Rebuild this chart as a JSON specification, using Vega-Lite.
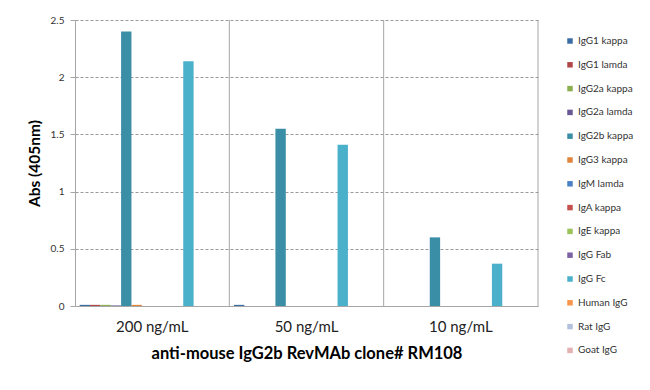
{
  "$schema": "https://vega.github.io/schema/vega-lite/v6.json",
  "width": 463,
  "height": 286,
  "autosize": "none",
  "padding": {"left": 75, "top": 20, "right": 112, "bottom": 84},
  "background": "white",
  "config": {
    "font": "Lato",
    "view": {"stroke": null}
  },
  "datasets": {
    "bars": [
      {"conc": "200 ng/mL", "isotype": "IgG1 kappa", "abs": 0.01},
      {"conc": "200 ng/mL", "isotype": "IgG1 lamda", "abs": 0.01},
      {"conc": "200 ng/mL", "isotype": "IgG2a kappa", "abs": 0.01},
      {"conc": "200 ng/mL", "isotype": "IgG2a lamda", "abs": 0.005},
      {"conc": "200 ng/mL", "isotype": "IgG2b kappa", "abs": 2.40},
      {"conc": "200 ng/mL", "isotype": "IgG3 kappa", "abs": 0.01},
      {"conc": "200 ng/mL", "isotype": "IgM lamda", "abs": 0},
      {"conc": "200 ng/mL", "isotype": "IgA kappa", "abs": 0},
      {"conc": "200 ng/mL", "isotype": "IgE kappa", "abs": 0},
      {"conc": "200 ng/mL", "isotype": "IgG Fab", "abs": 0},
      {"conc": "200 ng/mL", "isotype": "IgG Fc", "abs": 2.14},
      {"conc": "200 ng/mL", "isotype": "Human IgG", "abs": 0},
      {"conc": "200 ng/mL", "isotype": "Rat IgG", "abs": 0},
      {"conc": "200 ng/mL", "isotype": "Goat IgG", "abs": 0},
      {"conc": "50 ng/mL", "isotype": "IgG1 kappa", "abs": 0.01},
      {"conc": "50 ng/mL", "isotype": "IgG1 lamda", "abs": 0},
      {"conc": "50 ng/mL", "isotype": "IgG2a kappa", "abs": 0},
      {"conc": "50 ng/mL", "isotype": "IgG2a lamda", "abs": 0},
      {"conc": "50 ng/mL", "isotype": "IgG2b kappa", "abs": 1.55},
      {"conc": "50 ng/mL", "isotype": "IgG3 kappa", "abs": 0},
      {"conc": "50 ng/mL", "isotype": "IgM lamda", "abs": 0},
      {"conc": "50 ng/mL", "isotype": "IgA kappa", "abs": 0},
      {"conc": "50 ng/mL", "isotype": "IgE kappa", "abs": 0},
      {"conc": "50 ng/mL", "isotype": "IgG Fab", "abs": 0},
      {"conc": "50 ng/mL", "isotype": "IgG Fc", "abs": 1.41},
      {"conc": "50 ng/mL", "isotype": "Human IgG", "abs": 0},
      {"conc": "50 ng/mL", "isotype": "Rat IgG", "abs": 0},
      {"conc": "50 ng/mL", "isotype": "Goat IgG", "abs": 0},
      {"conc": "10 ng/mL", "isotype": "IgG1 kappa", "abs": 0},
      {"conc": "10 ng/mL", "isotype": "IgG1 lamda", "abs": 0},
      {"conc": "10 ng/mL", "isotype": "IgG2a kappa", "abs": 0},
      {"conc": "10 ng/mL", "isotype": "IgG2a lamda", "abs": 0},
      {"conc": "10 ng/mL", "isotype": "IgG2b kappa", "abs": 0.60},
      {"conc": "10 ng/mL", "isotype": "IgG3 kappa", "abs": 0},
      {"conc": "10 ng/mL", "isotype": "IgM lamda", "abs": 0},
      {"conc": "10 ng/mL", "isotype": "IgA kappa", "abs": 0},
      {"conc": "10 ng/mL", "isotype": "IgE kappa", "abs": 0},
      {"conc": "10 ng/mL", "isotype": "IgG Fab", "abs": 0},
      {"conc": "10 ng/mL", "isotype": "IgG Fc", "abs": 0.37},
      {"conc": "10 ng/mL", "isotype": "Human IgG", "abs": 0},
      {"conc": "10 ng/mL", "isotype": "Rat IgG", "abs": 0},
      {"conc": "10 ng/mL", "isotype": "Goat IgG", "abs": 0}
    ],
    "groups": [
      {"conc": "200 ng/mL"},
      {"conc": "50 ng/mL"},
      {"conc": "10 ng/mL"}
    ]
  },
  "layer": [
    {
      "data": {"name": "groups"},
      "mark": {"type": "rule", "color": "#a6a6a6", "strokeWidth": 1},
      "encoding": {
        "x": {"field": "conc", "type": "nominal", "bandPosition": 1,
              "sort": ["200 ng/mL", "50 ng/mL", "10 ng/mL"]}
      }
    },
    {
      "data": {"name": "bars"},
      "mark": {"type": "bar"},
      "encoding": {
        "x": {
          "field": "conc", "type": "nominal",
          "sort": ["200 ng/mL", "50 ng/mL", "10 ng/mL"],
          "scale": {"paddingInner": 0, "paddingOuter": 0},
          "axis": {
            "title": "anti-mouse  IgG2b RevMAb clone# RM108",
            "titleFontSize": 16.5, "titleFontWeight": "bold", "titleColor": "#000000",
            "titlePadding": 11,
            "bandPosition": 0.5,
            "labelAngle": 0, "labelAlign": "center", "labelBaseline": "top",
            "labelFontSize": 15, "labelColor": "#222222", "labelPadding": 13,
            "ticks": false, "grid": false,
            "domainColor": "#a6a6a6"
          }
        },
        "xOffset": {
          "field": "isotype", "type": "nominal",
          "sort": ["IgG1 kappa", "IgG1 lamda", "IgG2a kappa", "IgG2a lamda", "IgG2b kappa", "IgG3 kappa", "IgM lamda", "IgA kappa", "IgE kappa", "IgG Fab", "IgG Fc", "Human IgG", "Rat IgG", "Goat IgG"],
          "scale": {"paddingInner": 0, "paddingOuter": 0.45}
        },
        "y": {
          "field": "abs", "type": "quantitative",
          "scale": {"domain": [0, 2.5]},
          "axis": {
            "title": "Abs (405nm)", "titleFontSize": 15.5, "titleFontWeight": "bold", "titleColor": "#000000",
            "titlePadding": 8,
            "values": [0, 0.5, 1, 1.5, 2, 2.5], "format": "~g",
            "labelFontSize": 10, "labelColor": "#333333", "labelPadding": 6,
            "gridDash": [3, 2], "gridColor": "#9a9a9a",
            "tickColor": "#a6a6a6", "tickSize": 5,
            "domainColor": "#a6a6a6"
          }
        },
        "color": {
          "field": "isotype", "type": "nominal",
          "sort": ["IgG1 kappa", "IgG1 lamda", "IgG2a kappa", "IgG2a lamda", "IgG2b kappa", "IgG3 kappa", "IgM lamda", "IgA kappa", "IgE kappa", "IgG Fab", "IgG Fc", "Human IgG", "Rat IgG", "Goat IgG"],
          "scale": {
            "domain": ["IgG1 kappa", "IgG1 lamda", "IgG2a kappa", "IgG2a lamda", "IgG2b kappa", "IgG3 kappa", "IgM lamda", "IgA kappa", "IgE kappa", "IgG Fab", "IgG Fc", "Human IgG", "Rat IgG", "Goat IgG"],
            "range": ["#3c6ca5", "#b2474a", "#8cb050", "#685895", "#3a8fa7", "#e2843c", "#4a80c6", "#c5504d", "#9dc45a", "#7c62a5", "#4bb1cb", "#f7964a", "#b3c1dc", "#e3b1b1"]
          },
          "legend": {
            "title": null, "orient": "none", "legendX": 490, "legendY": 16,
            "symbolType": "square", "symbolSize": 30, "symbolStrokeWidth": 0,
            "labelFontSize": 10, "labelColor": "#333333", "labelOffset": 3,
            "rowPadding": 13.8
          }
        }
      }
    }
  ]
}
